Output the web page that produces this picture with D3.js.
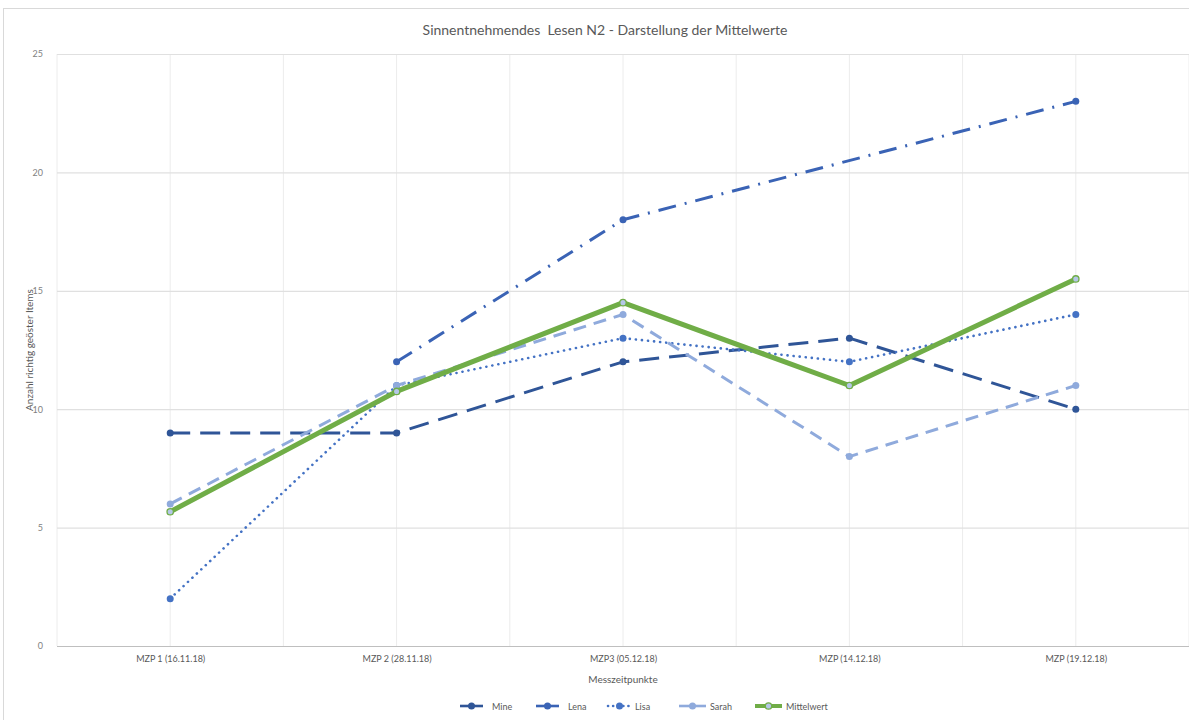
<!DOCTYPE html>
<html>
<head>
<meta charset="utf-8">
<script src="https://cdn.jsdelivr.net/npm/d3@7"></script>
<style>
  html, body { margin: 0; padding: 0; background: #fff; }
  svg { display: block; font-family: Lato, "Open Sans", sans-serif; }
</style>
</head>
<body>
<svg id="chart" width="1189" height="720"></svg>
<script>
// Measurement points (Messzeitpunkte)
const categories = ["MZP 1 (16.11.18)", "MZP 2 (28.11.18)", "MZP3 (05.12.18)", "MZP (14.12.18)", "MZP (19.12.18)"];

// Correctly solved items per pupil; null = no measurement
const mine       = [9, 9, 12, 13, 10];
const lena       = [null, 12, 18, null, 23];
const lisa       = [2, 11, 13, 12, 14];
const sarah      = [6, 11, 14, 8, 11];
const mittelwert = [5.67, 10.75, 14.5, 11, 15.5];

const yTicks = [0, 5, 10, 15, 20, 25];

const seriesNames = ["Mine", "Lena", "Lisa", "Sarah", "Mittelwert"];
const seriesValues = [mine, lena, lisa, sarah, mittelwert];

const styles = {
  Mine:       { color: "#2F5597", width: 3,   dash: "20,10", cap: "butt",  r: 3.5, fill: "#2F5597" },
  Lena:       { color: "#3A63B5", width: 3,   dash: "18,9,2,9", cap: "butt", r: 3.5, fill: "#3A63B5" },
  Lisa:       { color: "#4472C4", width: 2.6, dash: "0.1,6", cap: "round", r: 3.5, fill: "#4472C4" },
  Sarah:      { color: "#8FAADC", width: 3,   dash: "13,8",  cap: "butt",  r: 3.5, fill: "#8FAADC" },
  Mittelwert: { color: "#70AD47", width: 5,   dash: null,    cap: "round", r: 3.2, fill: "#B4C7E7" }
};

const svg = d3.select("#chart");
const W = 1189, H = 720;
const plot = { left: 57, right: 1189, top: 54, bottom: 646 };

// Outer chart frame
svg.append("rect")
  .attr("x", 3.5).attr("y", 8.5)
  .attr("width", W + 10).attr("height", H + 10)
  .attr("fill", "none").attr("stroke", "#d9d9d9").attr("stroke-width", 1);

const x = d3.scalePoint().domain(categories).range([plot.left, plot.right]).padding(0.5);
const y = d3.scaleLinear().domain([0, 25]).range([plot.bottom, plot.top]);

// Vertical gridlines at category centres and boundaries
const step = x.step();
const vLines = d3.range(0, categories.length * 2 + 1).map(i => plot.left + i * step / 2);
svg.append("g").selectAll("line").data(vLines).join("line")
  .attr("x1", d => d).attr("x2", d => d)
  .attr("y1", plot.top).attr("y2", plot.bottom)
  .attr("stroke", "#ececec").attr("stroke-width", 1);

// Horizontal gridlines + y axis labels
const yAxis = d3.axisLeft(y).tickValues(yTicks).tickSize(-(plot.right - plot.left)).tickPadding(14);
const gy = svg.append("g").attr("transform", `translate(${plot.left},0)`).call(yAxis);
gy.select(".domain").remove();
gy.selectAll(".tick line").attr("stroke", d => d === 0 ? "#bfbfbf" : "#e0e0e0").attr("stroke-width", 1.2);
gy.selectAll(".tick text").attr("fill", "#7f7f7f").attr("font-size", 9).attr("font-family", "Lato, sans-serif");

// X axis labels
const xAxis = d3.axisBottom(x).tickSize(0).tickPadding(10);
const gx = svg.append("g").attr("transform", `translate(0,${plot.bottom})`).call(xAxis);
gx.select(".domain").remove();
gx.selectAll(".tick text").attr("fill", "#595959").attr("font-size", 9).attr("font-family", "Lato, sans-serif");

// Titles
svg.append("text")
  .attr("x", 605).attr("y", 35)
  .attr("text-anchor", "middle")
  .attr("fill", "#595959").attr("font-size", 14)
  .style("white-space", "pre")
  .text("Sinnentnehmendes  Lesen N2 - Darstellung der Mittelwerte");

svg.append("text")
  .attr("x", 623).attr("y", 683)
  .attr("text-anchor", "middle")
  .attr("fill", "#595959").attr("font-size", 10)
  .text("Messzeitpunkte");

svg.append("text")
  .attr("transform", "translate(33,350) rotate(-90)")
  .attr("text-anchor", "middle")
  .attr("fill", "#595959").attr("font-size", 10)
  .text("Anzahl richtig geöster Items");

// Series lines and markers
const line = d3.line().x(d => x(d.c)).y(d => y(d.v));

seriesNames.forEach((name, si) => {
  const st = styles[name];
  const pts = seriesValues[si]
    .map((v, i) => ({ c: categories[i], v }))
    .filter(d => d.v !== null);
  const g = svg.append("g");
  g.append("path")
    .attr("d", line(pts))
    .attr("fill", "none")
    .attr("stroke", st.color)
    .attr("stroke-width", st.width)
    .attr("stroke-dasharray", st.dash)
    .attr("stroke-linecap", st.cap)
    .attr("stroke-linejoin", "round");
  g.selectAll("circle").data(pts).join("circle")
    .attr("cx", d => x(d.c)).attr("cy", d => y(d.v))
    .attr("r", st.r)
    .attr("fill", st.fill)
    .attr("stroke", name === "Mittelwert" ? st.color : "none")
    .attr("stroke-width", 1.3);
});

// Legend
const legendX = [460, 536, 608, 679, 755];
const legendY = 706;
const lg = svg.append("g");
seriesNames.forEach((name, i) => {
  const st = styles[name];
  const x0 = legendX[i], len = name === "Sarah" || name === "Mittelwert" ? 27 : 23;
  lg.append("line")
    .attr("x1", x0).attr("x2", x0 + len)
    .attr("y1", legendY).attr("y2", legendY)
    .attr("stroke", st.color)
    .attr("stroke-width", name === "Mittelwert" ? 4 : 2.6)
    .attr("stroke-dasharray", name === "Lisa" ? "0.1,5" : null)
    .attr("stroke-linecap", name === "Lisa" ? "round" : "butt");
  lg.append("circle")
    .attr("cx", x0 + len / 2).attr("cy", legendY)
    .attr("r", st.r)
    .attr("fill", st.fill)
    .attr("stroke", name === "Mittelwert" ? st.color : "none")
    .attr("stroke-width", 1.3);
  lg.append("text")
    .attr("x", x0 + len + (name === "Mine" || name === "Lena" ? 9 : 4))
    .attr("y", legendY + 3.5)
    .attr("fill", "#595959").attr("font-size", 9)
    .text(name);
});
</script>
</body>
</html>
